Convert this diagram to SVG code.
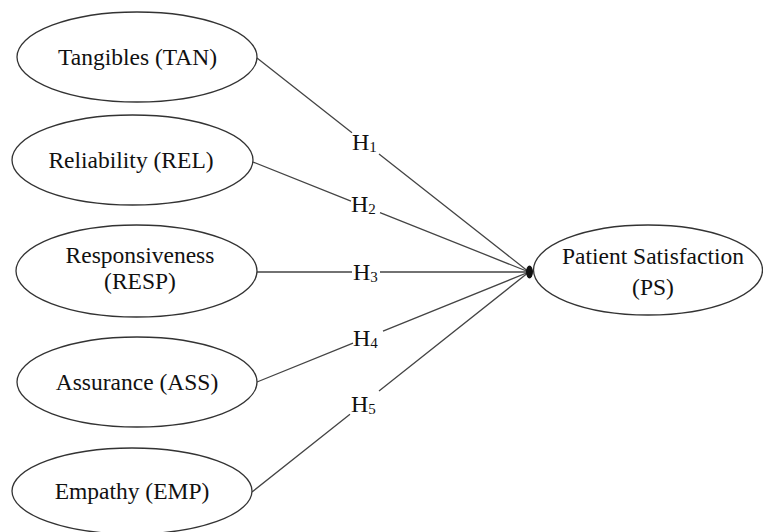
<svg xmlns="http://www.w3.org/2000/svg" width="763" height="532" viewBox="0 0 763 532">
<style>
.node ellipse{fill:#fff;stroke:#333;stroke-width:1.3}
.lbl{fill:#111;text-anchor:middle}
.h{fill:#111}
.conn path{fill:none;stroke:#444;stroke-width:1.3}
</style>
<rect width="763" height="532" fill="#fff"/>
<g id="connectors" class="conn">
<path d="M257,58 L352,132.7 M379,154 L529,272"/>
<path d="M253,162 L351,201.1 M380,212.6 L529,272"/>
<path d="M257,272 L352,272 M380,272 L529,272"/>
<path d="M257,382 L353,343.2 M383,331.1 L529,272"/>
<path d="M252,492 L350,414.2 M379,391.1 L529,272"/>
<ellipse cx="529.5" cy="272" rx="3.5" ry="6.5" fill="#111"/>
</g>
<g id="labels" font-family="'Liberation Serif', serif" font-size="24">
<text class="h" x="352" y="150">H<tspan font-size="15" dy="2">1</tspan></text>
<text class="h" x="351" y="212">H<tspan font-size="15" dy="2">2</tspan></text>
<text class="h" x="353" y="280">H<tspan font-size="15" dy="2">3</tspan></text>
<text class="h" x="353" y="346">H<tspan font-size="15" dy="2">4</tspan></text>
<text class="h" x="351" y="412">H<tspan font-size="15" dy="2">5</tspan></text>
</g>
<g font-family="'Liberation Serif', serif" font-size="23.5">
<g id="tan" class="node"><ellipse cx="137" cy="57" rx="120" ry="45"/><text class="lbl" x="137.5" y="65">Tangibles (TAN)</text></g>
<g id="rel" class="node"><ellipse cx="132.5" cy="160" rx="120.5" ry="45"/><text class="lbl" x="131" y="168">Reliability (REL)</text></g>
<g id="resp" class="node"><ellipse cx="136.5" cy="271" rx="120.5" ry="46"/><text class="lbl" x="140" y="263">Responsiveness</text><text class="lbl" x="140" y="289">(RESP)</text></g>
<g id="ass" class="node"><ellipse cx="137" cy="382" rx="120" ry="45"/><text class="lbl" x="137" y="390">Assurance (ASS)</text></g>
<g id="emp" class="node"><ellipse cx="132" cy="491" rx="120" ry="43"/><text class="lbl" x="132" y="499">Empathy (EMP)</text></g>
<g id="ps" class="node"><ellipse cx="648" cy="270" rx="114.5" ry="45"/><text class="lbl" x="653" y="264">Patient Satisfaction</text><text class="lbl" x="653" y="295">(PS)</text></g>
</g>
</svg>
